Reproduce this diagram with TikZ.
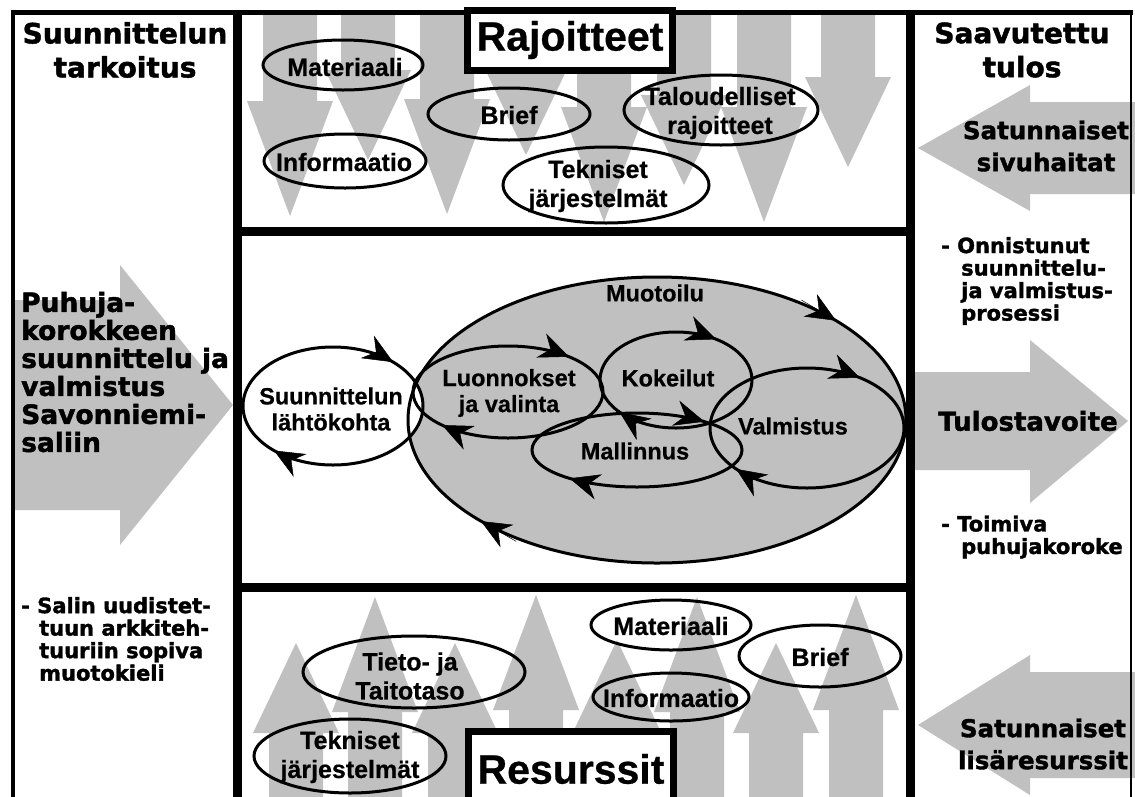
\documentclass[tikz,border=0pt]{standalone}
\usepackage{fontspec}
\setmainfont{Liberation Sans}[BoldFeatures={FakeBold=0.6}]
\newfontfamily\heavy{DejaVu Sans}[BoldFeatures={FakeBold=1.6}]
\usetikzlibrary{shapes.geometric,arrows.meta}
\definecolor{agray}{RGB}{192,192,192}
\newcommand\mydown[3]{\fill[agray] ({#1-27},12) -- ({#1+27},12) -- ({#1+27},{#2-#3}) -- ({#1+43},{#2-#3}) -- (#1,#2) -- ({#1-43},{#2-#3}) -- ({#1-27},{#2-#3}) -- cycle;}
\newcommand\myup[3]{\fill[agray] ({#1-27},800) -- ({#1+27},800) -- ({#1+27},{#2+#3}) -- ({#1+43},{#2+#3}) -- (#1,#2) -- ({#1-43},{#2+#3}) -- ({#1-27},{#2+#3}) -- cycle;}
\newcommand\ovtip[5]{\draw[ovtipstyle] ({#1+#3*cos(#5)+0.2*#3*sin(#5)},{#2+#4*sin(#5)-0.2*#4*cos(#5)}) -- ({#1+#3*cos(#5)},{#2+#4*sin(#5)});}
\tikzset{
  panel/.style={line width=9pt},
  oval/.style={ellipse, draw, line width=3pt, inner sep=0pt},
  ovlbl/.style={font=\bfseries\fontsize{25}{29}\selectfont, align=center, inner sep=0pt},
  midlbl/.style={font=\bfseries\fontsize{23.5}{26}\selectfont, align=center, inner sep=0pt},
  titlebox/.style={rectangle, draw, fill=white, line width=7pt, minimum width=205pt, inner sep=0pt, font=\bfseries\fontsize{41}{46}\selectfont},
  sidetitle/.style={font=\heavy\bfseries\fontsize{28}{34}\selectfont, align=center, inner sep=0pt},
  sidetxt/.style={font=\heavy\bfseries\fontsize{21}{22.5}\selectfont, align=left, inner sep=0pt},
  arrtxt/.style={font=\heavy\bfseries\fontsize{26.5}{28}\selectfont, align=left, inner sep=0pt},
  rarrtxt/.style={font=\heavy\bfseries\fontsize{24.5}{32}\selectfont, align=center, inner sep=0pt},
  ovtipstyle/.style={line width=0.5pt, -{Stealth[length=30pt,width=26pt,inset=10pt]}},
}
\begin{document}
\begin{tikzpicture}[x=1pt,y=-1pt]
\useasboundingbox (0,0) rectangle (1135,796);
\fill[white] (0,0) rectangle (1135,796);

% ---- top panel grey arrows (down)
\mydown{290}{216}{115}
\mydown{368}{160}{90}
\mydown{447}{214}{115}
\mydown{526}{155}{90}
\mydown{604}{222}{115}
\mydown{684}{185}{90}
\mydown{764}{222}{115}
\mydown{848}{167}{90}

% ---- bottom panel grey arrows (up)
\myup{296}{643}{90}
\myup{375}{597}{115}
\myup{455}{643}{90}
\myup{536}{595}{115}
\myup{617}{640}{90}
\myup{697}{597}{115}
\myup{776}{643}{90}
\myup{856}{595}{115}

% ---- side grey arrows
\fill[agray] (13,300) -- (120,300) -- (120,265) -- (233,405) -- (120,545) -- (120,510) -- (13,510) -- cycle;
\fill[agray] (918,148) -- (1030,85) -- (1030,102) -- (1135,102) -- (1135,194) -- (1030,194) -- (1030,211) -- cycle;
\fill[agray] (910,372) -- (1030,372) -- (1030,340) -- (1128,421) -- (1030,503) -- (1030,470) -- (910,470) -- cycle;
\fill[agray] (918,725) -- (1030,655) -- (1030,672) -- (1135,672) -- (1135,778) -- (1030,778) -- (1030,795) -- cycle;

% ---- frame
\draw[line width=4pt] (13,12) -- (13,800);
\draw[line width=5pt] (11,12) -- (1133,12);
\draw[line width=1.5pt] (1131,12) -- (1131,800);
\draw[panel] (237,10) -- (237,800);
\draw[panel] (910,10) -- (910,800);
\draw[panel] (237,231.5) -- (910,231.5);
\draw[panel] (237,587.5) -- (910,587.5);

% ---- left column
\node[sidetitle] (lt) at (125,50) {Suunnittelun\\tarkoitus};
\node[arrtxt, anchor=west] (la) at (21,372) {Puhuja-\\korokkeen\\suunnittelu ja\\valmistus\\Savonniemi-\\saliin};
\node[sidetxt, anchor=west] (lb) at (21,639) {- Salin uudistet-\\\hspace*{18pt}tuun arkkiteh-\\\hspace*{18pt}tuuriin sopiva\\\hspace*{18pt}muotokieli};

% ---- right column
\node[sidetitle] (rt) at (1022,50) {Saavutettu\\tulos};
\node[rarrtxt] (rs) at (1046,146) {Satunnaiset\\sivuhaitat};
\node[sidetxt, anchor=west] (ro) at (941,281) {- Onnistunut\\\hspace*{20pt}suunnittelu-\\\hspace*{20pt}ja valmistus-\\\hspace*{20pt}prosessi};
\node[font=\heavy\bfseries\fontsize{26}{30}\selectfont, inner sep=0pt] (rtv) at (1028,421) {Tulostavoite};
\node[sidetxt, anchor=west] (rp) at (941,537) {- Toimiva\\\hspace*{20pt}puhujakoroke};
\node[rarrtxt] (rl) at (1043,744) {Satunnaiset\\lisäresurssit};

% ---- top panel
\node[titlebox, minimum height=60pt] (raj) at (570,40) {Rajoitteet};
\node[oval, minimum width=160pt, minimum height=50pt] (mat1) at (343,65) {};
\node[ovlbl] (mat1t) at (345,67) {Materiaali};
\node[oval, minimum width=162pt, minimum height=54pt] (inf1) at (345,161) {};
\node[ovlbl] (inf1t) at (344,162) {Informaatio};
\node[oval, minimum width=162pt, minimum height=52pt] (bri1) at (509,114) {};
\node[ovlbl] (bri1t) at (509,115) {Brief};
\node[oval, minimum width=194pt, minimum height=70pt] (tal) at (721,110) {};
\node[ovlbl] (talt) at (720,113) {Taloudelliset\\rajoitteet};
\node[oval, minimum width=206pt, minimum height=76pt] (tek1) at (606,185) {};
\node[ovlbl] (tek1t) at (598,186) {Tekniset\\järjestelmät};

% ---- bottom panel
\node[oval, minimum width=160pt, minimum height=50pt] (mat2) at (671,625) {};
\node[ovlbl] (mat2t) at (671,626) {Materiaali};
\node[oval, minimum width=162pt, minimum height=62pt] (bri2) at (820,656) {};
\node[ovlbl] (bri2t) at (820,657) {Brief};
\node[oval, minimum width=156pt, minimum height=48pt] (inf2) at (671,697) {};
\node[ovlbl] (inf2t) at (671,698) {Informaatio};
\node[oval, minimum width=222pt, minimum height=72pt] (tieto) at (414,672) {};
\node[ovlbl] (tietot) at (410,676) {Tieto- ja\\Taitotaso};
\node[oval, minimum width=192pt, minimum height=74pt] (tek2) at (350,756) {};
\node[ovlbl] (tek2t) at (350,757) {Tekniset\\järjestelmät};
\node[titlebox, minimum height=76pt] (res) at (571,769) {Resurssit};

% ---- middle panel
\node[ellipse, fill=agray, minimum width=498pt, minimum height=286pt, inner sep=0pt] (muot) at (657,420) {};
\node[oval, fill=white, minimum width=180pt, minimum height=118pt] (lahto) at (333,406) {};
\node[oval, minimum width=498pt, minimum height=286pt] (muotb) at (657,420) {};
\node[midlbl] (muott) at (655,293) {Muotoilu};
\node[oval, minimum width=190pt, minimum height=92pt] (luon) at (508,392) {};
\node[oval, minimum width=152pt, minimum height=96pt] (koke) at (676,380) {};
\node[oval, minimum width=194pt, minimum height=120pt] (valm) at (807,428) {};
\node[oval, minimum width=210pt, minimum height=74pt] (mall) at (637,450) {};
\node[midlbl] (lahtot) at (331,409) {Suunnittelun\\lähtökohta};
\node[midlbl] (luont) at (509,393) {Luonnokset\\ja valinta};
\node[midlbl] (koket) at (668,378) {Kokeilut};
\node[midlbl] (valmt) at (793,426) {Valmistus};
\node[midlbl] (mallt) at (635,451) {Mallinnus};

% ---- circulating arrowheads
\ovtip{333}{406}{90}{59}{-48}
\ovtip{333}{406}{90}{59}{131}
\ovtip{508}{392}{95}{46}{-50}
\ovtip{508}{392}{95}{46}{134}
\ovtip{676}{380}{76}{48}{-58}
\ovtip{676}{380}{76}{48}{138}
\ovtip{807}{428}{97}{60}{-57}
\ovtip{807}{428}{97}{60}{137}
\ovtip{637}{450}{105}{37}{130}
\ovtip{637}{450}{105}{37}{-50}
\ovtip{657}{420}{249}{143}{-44}
\ovtip{657}{420}{249}{143}{135}
\end{tikzpicture}
\end{document}
